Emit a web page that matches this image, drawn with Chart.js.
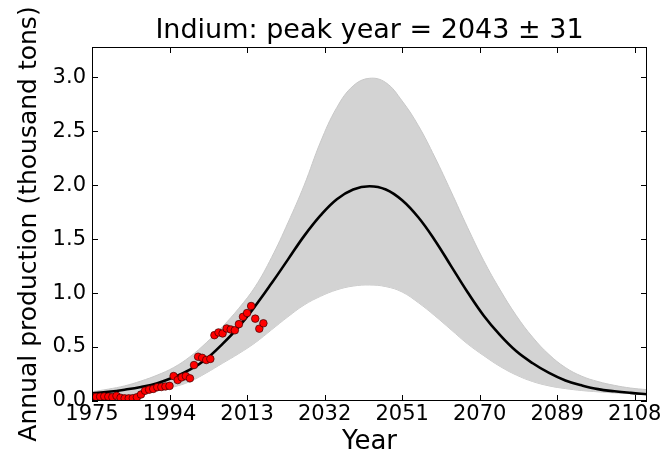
<!DOCTYPE html>
<html>
<head>
<meta charset="utf-8">
<script src="https://cdn.jsdelivr.net/npm/chart.js@4/dist/chart.umd.min.js"></script>
<style>
  html, body { margin: 0; padding: 0; background: #fff; }
  #wrap { width: 667px; height: 460px; }
</style>
</head>
<body>
<div id="wrap"><canvas id="c" width="667" height="460"></canvas></div>
<script>
// Fitted production curve and its uncertainty band (thousand tons), sampled every 4 years
const fitYears = [1975, 1979, 1983, 1987, 1991, 1995, 1999, 2003, 2007, 2011, 2015, 2019, 2023, 2027, 2031,
                  2035, 2039, 2043, 2047, 2051, 2055, 2059, 2063, 2067, 2071, 2075, 2079, 2083, 2087, 2091,
                  2095, 2099, 2103, 2107, 2111];
const fitMean  = [0.07, 0.085, 0.105, 0.13, 0.165, 0.22, 0.29, 0.39, 0.53, 0.69, 0.88, 1.09, 1.31, 1.53, 1.72,
                  1.87, 1.96, 1.99, 1.96, 1.86, 1.70, 1.49, 1.25, 1.01, 0.79, 0.61, 0.46, 0.35, 0.26, 0.19,
                  0.145, 0.11, 0.09, 0.075, 0.063];
const fitUpper = [0.086, 0.11, 0.14, 0.185, 0.24, 0.31, 0.41, 0.54, 0.69, 0.86, 1.06, 1.33, 1.65, 2.00, 2.40,
                  2.72, 2.92, 2.99, 2.95, 2.78, 2.55, 2.26, 1.94, 1.61, 1.30, 1.03, 0.79, 0.59, 0.43, 0.31,
                  0.23, 0.18, 0.145, 0.12, 0.105];
const fitLower = [0.04, 0.046, 0.055, 0.07, 0.095, 0.13, 0.18, 0.26, 0.35, 0.44, 0.54, 0.66, 0.78, 0.89, 0.97,
                  1.03, 1.065, 1.075, 1.06, 1.01, 0.91, 0.79, 0.66, 0.53, 0.42, 0.32, 0.24, 0.18, 0.14, 0.115,
                  0.097, 0.085, 0.075, 0.068, 0.062];

// Observed annual production
const obsYears = [1975, 1976, 1977, 1978, 1979, 1980, 1981, 1982, 1983, 1984, 1985, 1986, 1987, 1988,
                  1989, 1990, 1991, 1992, 1993, 1994, 1995, 1996, 1997, 1998, 1999, 2000, 2001, 2002,
                  2003, 2004, 2005, 2006, 2007, 2008, 2009, 2010, 2011, 2012, 2013, 2014, 2015, 2016, 2017];
const obsValues = [0.04, 0.038, 0.04, 0.042, 0.04, 0.036, 0.048, 0.03, 0.024, 0.024, 0.026, 0.035, 0.06, 0.095,
                   0.105, 0.112, 0.128, 0.13, 0.135, 0.14, 0.231, 0.194, 0.219, 0.231, 0.21, 0.333, 0.41, 0.40,
                   0.38, 0.39, 0.61, 0.635, 0.626, 0.672, 0.663, 0.655, 0.712, 0.78, 0.815, 0.88, 0.763, 0.67, 0.72];

const xTickValues = [1975, 1994, 2013, 2032, 2051, 2070, 2089, 2108];
const yTickValues = [0, 0.5, 1.0, 1.5, 2.0, 2.5, 3.0];
const titleText = 'Indium: peak year = 2043 \u00b1 31';

const FONT = "'DejaVu Sans', 'Liberation Sans', sans-serif";

const pts = (xs, ys) => xs.map((x, i) => ({ x: x, y: ys[i] }));

// Box frame with inward-pointing ticks on all four sides, plus the title centred over the plot
const frameTicks = {
  id: 'frameTicks',
  afterDatasetsDraw(chart) {
    const { ctx, chartArea: a, scales: { x, y } } = chart;
    const L = 6;
    ctx.save();
    ctx.strokeStyle = '#000';
    ctx.lineWidth = 1;
    ctx.beginPath();
    x.ticks.forEach(t => {
      const px = Math.round(x.getPixelForValue(t.value)) + 0.5;
      ctx.moveTo(px, a.bottom); ctx.lineTo(px, a.bottom - L);
      ctx.moveTo(px, a.top); ctx.lineTo(px, a.top + L);
    });
    y.ticks.forEach(t => {
      const py = Math.round(y.getPixelForValue(t.value)) + 0.5;
      ctx.moveTo(a.left, py); ctx.lineTo(a.left + L, py);
      ctx.moveTo(a.right, py); ctx.lineTo(a.right - L, py);
    });
    ctx.stroke();
    ctx.strokeRect(a.left + 0.5, a.top + 0.5, a.right - a.left - 1, a.bottom - a.top - 1);

    ctx.fillStyle = '#000';
    ctx.font = '27px ' + FONT;
    ctx.textAlign = 'center';
    ctx.textBaseline = 'alphabetic';
    ctx.fillText(titleText, (a.left + a.right) / 2, a.top - 9);
    ctx.restore();
  }
};

const curveStyle = { pointRadius: 0, tension: 0.4, clip: 0 };

new Chart(document.getElementById('c'), {
  type: 'line',
  data: {
    datasets: [
      {
        label: 'Observed',
        data: pts(obsYears, obsValues),
        showLine: false,
        pointRadius: 3.8,
        pointBackgroundColor: '#ff0000',
        pointBorderColor: '#3a0000',
        pointBorderWidth: 0.7,
        clip: 0,
        order: 0
      },
      Object.assign({
        label: 'Fit',
        data: pts(fitYears, fitMean),
        borderColor: '#000',
        borderWidth: 2.6,
        fill: false,
        order: 1
      }, curveStyle),
      Object.assign({
        label: 'Upper',
        data: pts(fitYears, fitUpper),
        borderColor: '#c8c8c8',
        borderWidth: 1,
        backgroundColor: '#d3d3d3',
        fill: '+1',
        order: 2
      }, curveStyle),
      Object.assign({
        label: 'Lower',
        data: pts(fitYears, fitLower),
        borderColor: '#c8c8c8',
        borderWidth: 1,
        fill: false,
        order: 3
      }, curveStyle)
    ]
  },
  options: {
    responsive: false,
    animation: false,
    devicePixelRatio: 1,
    layout: { autoPadding: false, padding: { left: 0, right: 20, top: 47, bottom: 0 } },
    plugins: {
      legend: { display: false },
      tooltip: { enabled: false },
      title: { display: false }
    },
    scales: {
      x: {
        type: 'linear',
        min: 1975,
        max: 2111,
        grid: { display: false, drawTicks: false },
        border: { display: false },
        afterBuildTicks: s => { s.ticks = xTickValues.map(v => ({ value: v })); },
        afterFit: s => { s.height = 59; },
        ticks: {
          color: '#000',
          font: { family: FONT, size: 21 },
          padding: 1,
          maxRotation: 0,
          autoSkip: false,
          callback: v => String(v)
        },
        title: {
          display: true,
          text: 'Year',
          color: '#000',
          font: { family: FONT, size: 26 },
          padding: { top: 0, bottom: 2 }
        }
      },
      y: {
        min: 0,
        max: 3.28,
        grid: { display: false, drawTicks: false },
        border: { display: false },
        afterBuildTicks: s => { s.ticks = yTickValues.map(v => ({ value: v })); },
        afterFit: s => { s.width = 92; },
        ticks: {
          color: '#000',
          font: { family: FONT, size: 21 },
          padding: 6,
          autoSkip: false,
          callback: v => Number(v).toFixed(1)
        },
        title: {
          display: true,
          text: 'Annual production (thousand tons)',
          color: '#000',
          font: { family: FONT, size: 25 },
          padding: { top: 14, bottom: 0 }
        }
      }
    }
  },
  plugins: [frameTicks]
});
</script>
</body>
</html>
